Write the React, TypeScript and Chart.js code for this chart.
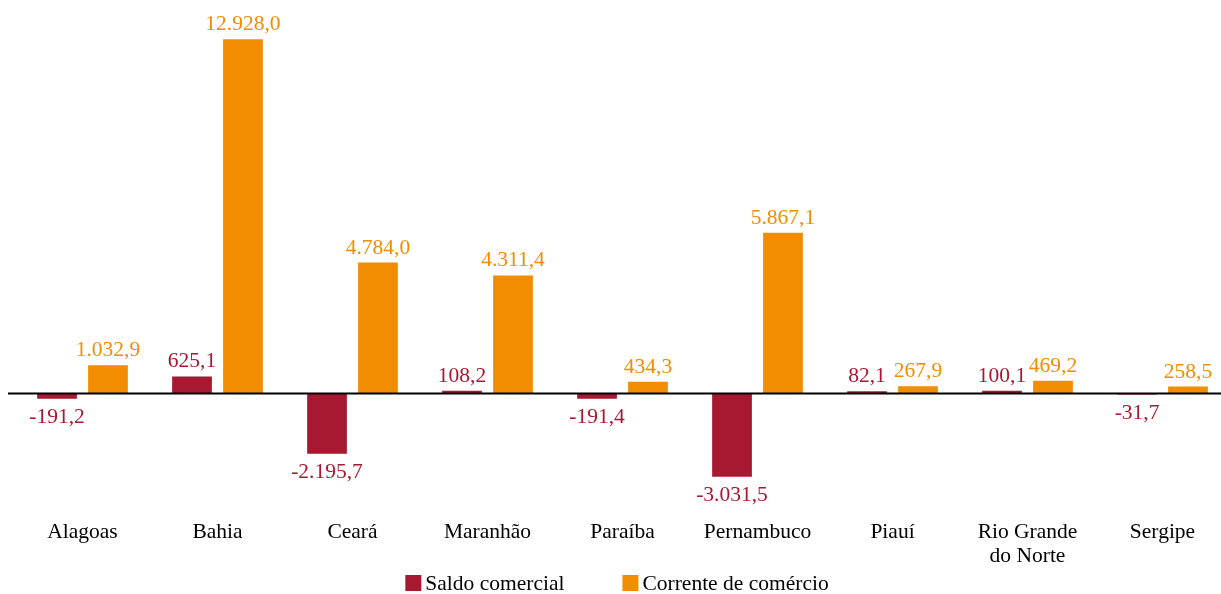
import React, { useEffect, useRef } from "react";
import { Chart, registerables } from "chart.js";

Chart.register(...registerables);

const categories: (string | string[])[] = [
  "Alagoas",
  "Bahia",
  "Ceará",
  "Maranhão",
  "Paraíba",
  "Pernambuco",
  "Piauí",
  ["Rio Grande", "do Norte"],
  "Sergipe",
];
const saldoComercial = [-191.2, 625.1, -2195.7, 108.2, -191.4, -3031.5, 82.1, 100.1, -31.7];
const correnteComercio = [1032.9, 12928.0, 4784.0, 4311.4, 434.3, 5867.1, 267.9, 469.2, 258.5];
const seriesNames = ["Saldo comercial", "Corrente de comércio"];
const seriesColors = ["#A71930", "#F28C00"];
const yMin = -4000;
const yMax = 14000;

const FONT = "'Liberation Serif', 'Times New Roman', serif";
const FS = 21.5;
const W = 1230;
const H = 594;

function fmt(v: number): string {
  const neg = v < 0;
  const abs = Math.abs(v);
  const fixed = abs.toFixed(1);
  const [intPart, dec] = fixed.split(".");
  const withDots = intPart.replace(/\B(?=(\d{3})+(?!\d))/g, ".");
  return (neg ? "-" : "") + withDots + "," + dec;
}

const valueLabels = {
  id: "valueLabels",
  afterDatasetsDraw(chart: any) {
    const ctx = chart.ctx;
    const y = chart.scales.y;
    const zero = y.getPixelForValue(0);
    ctx.save();
    ctx.strokeStyle = "#000";
    ctx.lineWidth = 2;
    ctx.beginPath();
    ctx.moveTo(8, zero);
    ctx.lineTo(chart.width, zero);
    ctx.stroke();
    ctx.font = `${FS}px ${FONT}`;
    ctx.textAlign = "center";
    chart.data.datasets.forEach((ds: any, i: number) => {
      const meta = chart.getDatasetMeta(i);
      ctx.fillStyle = seriesColors[i];
      meta.data.forEach((bar: any, j: number) => {
        const v = ds.data[j] as number;
        const t = fmt(v);
        if (v >= 0) {
          ctx.textBaseline = "alphabetic";
          ctx.fillText(t, bar.x, bar.y - 9);
        } else {
          ctx.textBaseline = "top";
          ctx.fillText(t, bar.x, bar.y + 8);
        }
      });
    });
    ctx.restore();
  },
};

const customLegend = {
  id: "customLegend",
  afterDraw(chart: any) {
    const ctx = chart.ctx;
    ctx.save();
    ctx.font = `${FS}px ${FONT}`;
    ctx.textBaseline = "middle";
    ctx.textAlign = "left";
    const box = 16;
    const boxGap = 4;
    const itemGap = 58;
    const widths = seriesNames.map((n) => box + boxGap + ctx.measureText(n).width);
    const total = widths.reduce((a, b) => a + b, 0) + itemGap * (seriesNames.length - 1);
    let x = 617 - total / 2;
    const cy = 583;
    seriesNames.forEach((n, i) => {
      ctx.fillStyle = seriesColors[i];
      ctx.fillRect(x, cy - box / 2, box, box);
      ctx.fillStyle = "#000";
      ctx.fillText(n, x + box + boxGap, cy + 1);
      x += widths[i] + itemGap;
    });
    ctx.restore();
  },
};

export default function App() {
  const ref = useRef<HTMLCanvasElement>(null);
  useEffect(() => {
    document.body.style.margin = "0";
    const chart = new Chart(ref.current!, {
      type: "bar",
      data: {
        labels: categories,
        datasets: [
          {
            label: seriesNames[0],
            data: saldoComercial,
            backgroundColor: seriesColors[0],
            categoryPercentage: 0.755,
            barPercentage: 0.78,
          },
          {
            label: seriesNames[1],
            data: correnteComercio,
            backgroundColor: seriesColors[1],
            categoryPercentage: 0.755,
            barPercentage: 0.78,
          },
        ],
      },
      options: {
        animation: false,
        responsive: false,
        maintainAspectRatio: false,
        layout: { padding: { top: 10, left: 15, right: 0, bottom: 16.5 } },
        scales: {
          x: {
            grid: { display: false },
            border: { display: false },
            ticks: {
              color: "#000",
              font: { family: FONT, size: FS, lineHeight: 1.1 },
              padding: 9.5,
              maxRotation: 0,
              autoSkip: false,
            },
          },
          y: {
            display: false,
            min: yMin,
            max: yMax,
          },
        },
        plugins: {
          legend: { display: false },
          tooltip: { enabled: false },
        },
      },
      plugins: [valueLabels, customLegend],
    });
    return () => chart.destroy();
  }, []);
  return (
    <div style={{ width: 1221, height: H, overflow: "hidden" }}>
      <canvas ref={ref} width={W} height={H} style={{ display: "block" }} />
    </div>
  );
}
